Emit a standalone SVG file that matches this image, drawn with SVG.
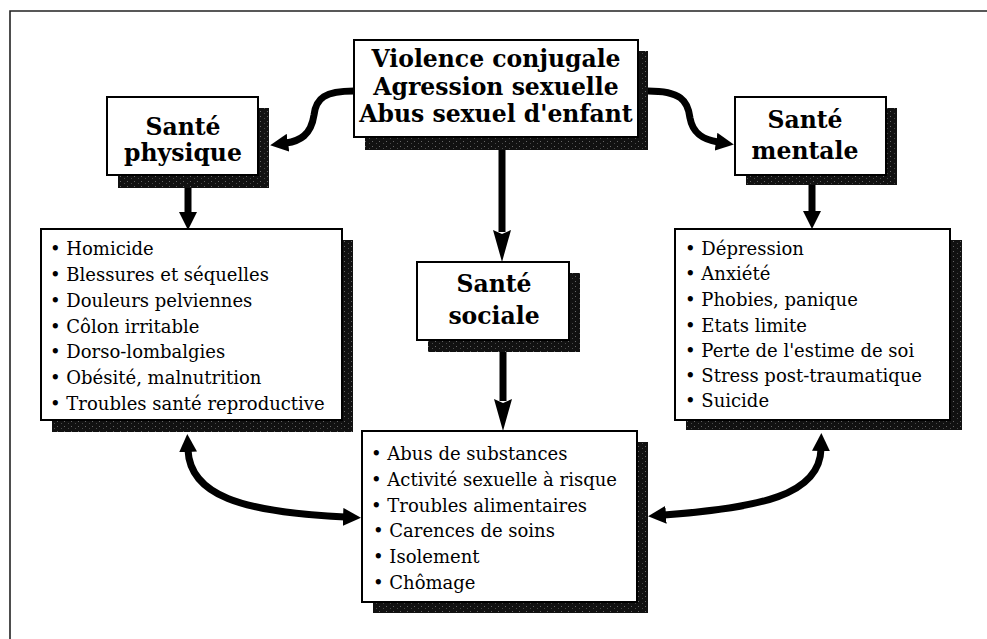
<svg xmlns="http://www.w3.org/2000/svg" width="987" height="639" viewBox="0 0 987 639">
<style>
.box{fill:#fff;stroke:#000;stroke-width:2}
.sh{fill:url(#speck)}
.hd{font-family:"DejaVu Serif",serif;font-weight:bold;font-size:23.5px;fill:#000;text-anchor:middle}
.li{font-family:"DejaVu Serif",serif;font-size:18px;fill:#000}
.ar{fill:none;stroke:#000;stroke-width:7}
</style>
<defs>
<pattern id="speck" width="7" height="5" patternUnits="userSpaceOnUse">
<rect width="7" height="5" fill="#111"/>
<rect x="1" y="1" width="1" height="1" fill="#666"/>
<rect x="5" y="3" width="1" height="1" fill="#4a4a4a"/>
</pattern>
<marker id="ah" viewBox="0 0 18 18" refX="2" refY="9" markerWidth="18" markerHeight="18" markerUnits="userSpaceOnUse" orient="auto-start-reverse">
<path d="M0,0 L18,9 L0,18 z" fill="#000"/>
</marker>
<marker id="al" viewBox="0 0 32 18" refX="2" refY="9" markerWidth="32" markerHeight="18" markerUnits="userSpaceOnUse" orient="auto">
<path d="M0,0 L32,9 L0,18 L4,9 z" fill="#000"/>
</marker>
</defs>
<rect width="987" height="639" fill="#fff"/>
<path d="M10,639 L10,11 L987,11" fill="none" stroke="#222" stroke-width="1.6"/>

<g id="connectors">
<path class="ar" d="M354,91 C325,91 316,98 314,115 C311,135 300,141 286,143" marker-end="url(#ah)"/>
<path class="ar" d="M648,91 C680,91 688,100 690,118 C693,135 705,140 718,142" marker-end="url(#ah)"/>
<path class="ar" d="M502,150 L502,232" marker-end="url(#al)"/>
<path class="ar" d="M188,188 L188,214" marker-end="url(#ah)"/>
<path class="ar" d="M812,185 L812,213" marker-end="url(#ah)"/>
<path class="ar" d="M503,352 L503,401" marker-end="url(#al)"/>
<path class="ar" d="M188,450 C190,495 240,512 345,517" marker-start="url(#ah)" marker-end="url(#ah)"/>
<path class="ar" d="M821,449 C820,495 760,508 664,515" marker-start="url(#ah)" marker-end="url(#ah)"/>
</g>

<g id="node-source">
<rect class="sh" x="365" y="51" width="283" height="99"/>
<rect class="box" x="354" y="40" width="284" height="97"/>
<text class="hd" x="496" y="67">Violence conjugale</text>
<text class="hd" x="496" y="95">Agression sexuelle</text>
<text class="hd" x="496" y="122">Abus sexuel d'enfant</text>
</g>

<g id="node-physique">
<rect class="sh" x="118" y="108" width="151" height="80"/>
<rect class="box" x="107" y="97" width="151" height="78"/>
<text class="hd" x="183" y="135">Santé</text>
<text class="hd" x="183" y="161">physique</text>
</g>

<g id="node-mentale">
<rect class="sh" x="746" y="108" width="151" height="77"/>
<rect class="box" x="735" y="97" width="151" height="78"/>
<text class="hd" x="805" y="128">Santé</text>
<text class="hd" x="805" y="159">mentale</text>
</g>

<g id="node-sociale">
<rect class="sh" x="428" y="273" width="152" height="79"/>
<rect class="box" x="417" y="262" width="152" height="78"/>
<text class="hd" x="494" y="292">Santé</text>
<text class="hd" x="494" y="324">sociale</text>
</g>

<g id="list-physique">
<rect class="sh" x="52" y="240" width="301" height="192"/>
<rect class="box" x="41" y="229" width="301" height="191"/>
<text class="li" x="50" y="255">• Homicide</text>
<text class="li" x="50" y="281">• Blessures et séquelles</text>
<text class="li" x="50" y="307">• Douleurs pelviennes</text>
<text class="li" x="50" y="333">• Côlon irritable</text>
<text class="li" x="50" y="358">• Dorso-lombalgies</text>
<text class="li" x="50" y="384">• Obésité, malnutrition</text>
<text class="li" x="50" y="410">• Troubles santé reproductive</text>
</g>

<g id="list-mentale">
<rect class="sh" x="686" y="240" width="276" height="190"/>
<rect class="box" x="675" y="229" width="275" height="191"/>
<text class="li" x="685" y="255">• Dépression</text>
<text class="li" x="685" y="280">• Anxiété</text>
<text class="li" x="685" y="306">• Phobies, panique</text>
<text class="li" x="685" y="332">• Etats limite</text>
<text class="li" x="685" y="357">• Perte de l'estime de soi</text>
<text class="li" x="685" y="382">• Stress post-traumatique</text>
<text class="li" x="685" y="407">• Suicide</text>
</g>

<g id="list-sociale">
<rect class="sh" x="373" y="442" width="275" height="171"/>
<rect class="box" x="362" y="431" width="275" height="171"/>
<text class="li" x="371" y="460">• Abus de substances</text>
<text class="li" x="371" y="486">• Activité sexuelle à risque</text>
<text class="li" x="371" y="512">• Troubles alimentaires</text>
<text class="li" x="373" y="537">• Carences de soins</text>
<text class="li" x="373" y="563">• Isolement</text>
<text class="li" x="373" y="589">• Chômage</text>
</g>
</svg>
